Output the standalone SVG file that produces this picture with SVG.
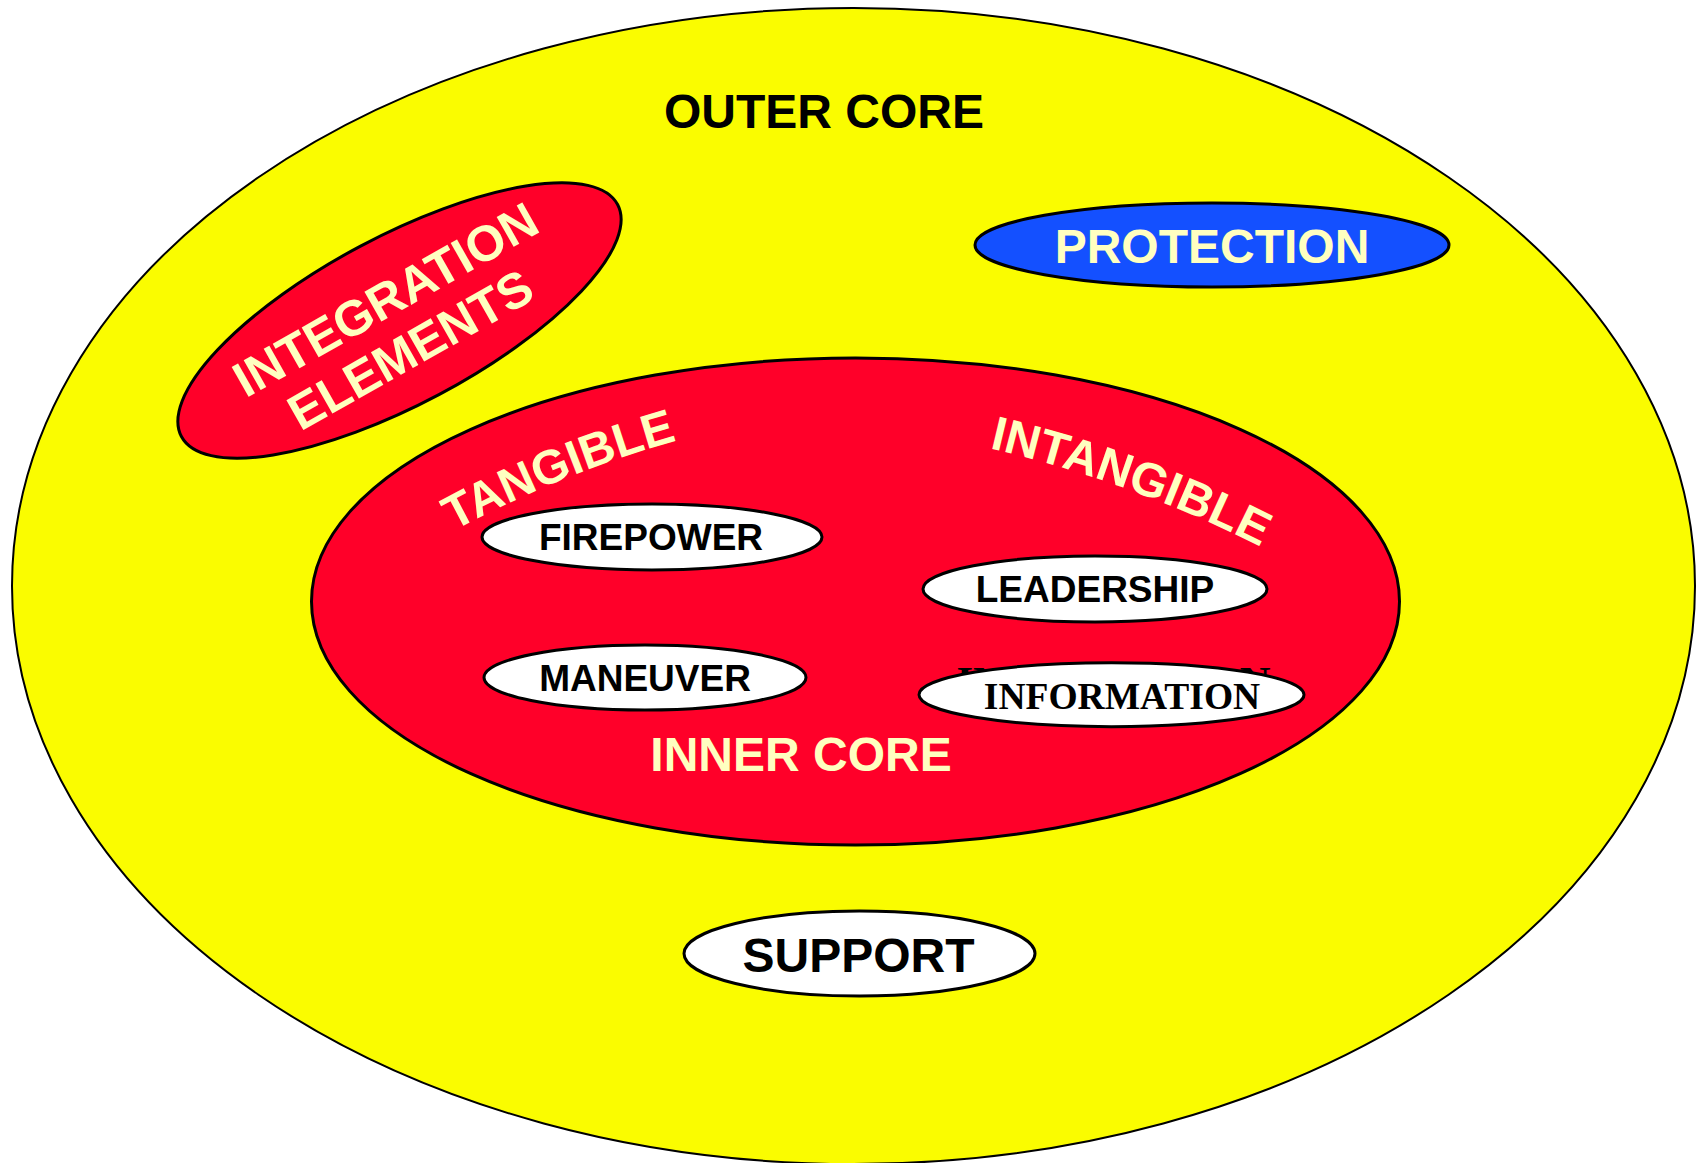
<svg xmlns="http://www.w3.org/2000/svg" width="1702" height="1163" viewBox="0 0 1702 1163">
<style>
.sans{font-family:"Liberation Sans",Arial,sans-serif;font-weight:bold}
.serif{font-family:"Liberation Serif","Times New Roman",serif;font-weight:bold}
.cream{fill:#FFFFC0}
.blk{fill:#000}
.red{fill:#FF0029;stroke:#000;stroke-width:3}
.wht{fill:#fff;stroke:#000;stroke-width:3}
</style>
<defs>
<path id="arcL" d="M 360 587.7 A 1100 1100 0 0 1 784 416"/>
<path id="arcR" d="M 967 443.3 A 1200 1200 0 0 1 1281 557.5"/>
</defs>
<rect width="1702" height="1163" fill="#fff"/>
<g id="outer-core">
<ellipse cx="853.5" cy="586" rx="841.5" ry="578" fill="#FAFC00" stroke="#000" stroke-width="2"/>
<text class="sans blk" x="824" y="128" font-size="48" text-anchor="middle">OUTER CORE</text>
</g>
<g id="integration-elements">
<ellipse class="red" cx="0" cy="0" rx="247" ry="84" transform="translate(399.5,320.5) rotate(-28)"/>
<text class="sans cream" font-size="50" text-anchor="middle" transform="translate(393.9,314.7) rotate(-29.5)">INTEGRATION</text>
<text class="sans cream" font-size="50" text-anchor="middle" transform="translate(418.9,364.7) rotate(-29.5)">ELEMENTS</text>
</g>
<g id="protection">
<ellipse cx="1212" cy="245" rx="237" ry="42" fill="#1450FF" stroke="#000" stroke-width="3"/>
<text class="sans cream" x="1212" y="263" font-size="48" text-anchor="middle">PROTECTION</text>
</g>
<g id="inner-core">
<ellipse class="red" cx="855.5" cy="601.5" rx="544" ry="243.5"/>
<text class="sans cream" x="801" y="771" font-size="48" text-anchor="middle">INNER CORE</text>
<text class="sans cream" font-size="48"><textPath href="#arcL" startOffset="50%" text-anchor="middle">TANGIBLE</textPath></text>
<text class="sans cream" font-size="48"><textPath href="#arcR" startOffset="50%" text-anchor="middle">INTANGIBLE</textPath></text>
</g>
<g id="firepower">
<ellipse class="wht" cx="652" cy="537" rx="170" ry="33"/>
<text class="sans blk" x="651" y="550" font-size="37" text-anchor="middle">FIREPOWER</text>
</g>
<g id="maneuver">
<ellipse class="wht" cx="645" cy="677.5" rx="161" ry="32.5"/>
<text class="sans blk" x="645" y="690.5" font-size="37" text-anchor="middle">MANEUVER</text>
</g>
<g id="leadership">
<ellipse class="wht" cx="1095" cy="589" rx="172" ry="33"/>
<text class="sans blk" x="1095" y="602" font-size="37" text-anchor="middle">LEADERSHIP</text>
</g>
<g id="information">
<text class="serif blk" x="1113.5" y="696" font-size="42.6" text-anchor="middle">INFORMATION</text>
<ellipse class="wht" cx="1111.5" cy="694.7" rx="192.5" ry="32"/>
<text class="serif blk" x="1122" y="709" font-size="37.5" text-anchor="middle">INFORMATION</text>
</g>
<g id="support">
<ellipse class="wht" cx="859.5" cy="953.5" rx="175.5" ry="42.5"/>
<text class="sans blk" x="858.5" y="972" font-size="48" text-anchor="middle">SUPPORT</text>
</g>
<g id="connectors"></g>
</svg>
